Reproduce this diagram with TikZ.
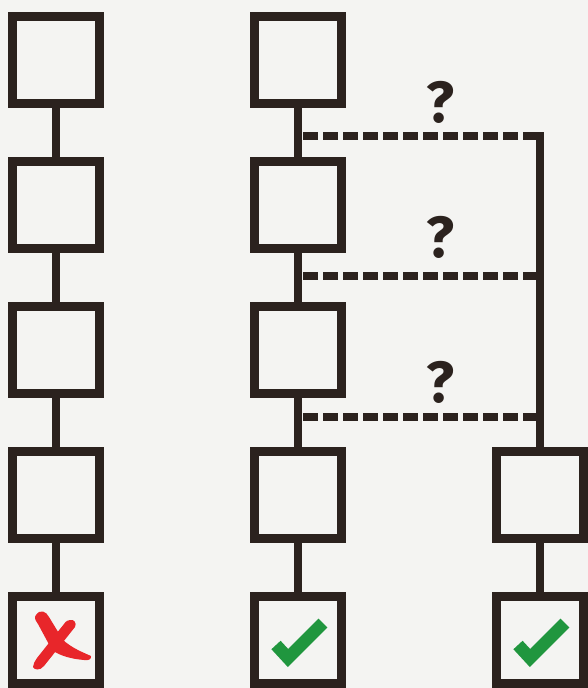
\documentclass[tikz,border=0pt]{standalone}
\usepackage{fontspec}
\setmainfont{Fira Sans}
\definecolor{ink}{RGB}{43,34,30}
\definecolor{okgreen}{RGB}{32,150,62}
\definecolor{badred}{RGB}{232,38,42}
\definecolor{paper}{RGB}{244,244,242}
\begin{document}
\begin{tikzpicture}[x=1pt,y=-1pt,
  boxnode/.style={draw=ink, line width=9pt, minimum size=87pt, inner sep=0pt, shape=rectangle},
  link/.style={draw=ink, line width=8.5pt},
  branch/.style={draw=ink, line width=8pt, dash pattern=on 15pt off 5pt, dash phase=15pt},
  qmark/.style={text=ink, font=\fontsize{58}{60}\selectfont\bfseries, inner sep=0pt, anchor=base},
  tick/.style={draw=okgreen, line width=12.5pt, line join=miter}
]
\fill[paper] (0,0) rectangle (588,688);
\useasboundingbox (0,0) rectangle (588,688);

% left column
\node[boxnode] (L1) at (56,60) {};
\node[boxnode] (L2) at (56,205) {};
\node[boxnode] (L3) at (56,350) {};
\node[boxnode] (L4) at (56,495) {};
\node[boxnode] (L5) at (56,640) {};
\draw[link] (L1.south) -- (L2.north);
\draw[link] (L2.south) -- (L3.north);
\draw[link] (L3.south) -- (L4.north);
\draw[link] (L4.south) -- (L5.north);

% middle column
\node[boxnode] (M1) at (298,60) {};
\node[boxnode] (M2) at (298,205) {};
\node[boxnode] (M3) at (298,350) {};
\node[boxnode] (M4) at (298,495) {};
\node[boxnode] (M5) at (298,640) {};
\draw[link] (M1.south) -- (M2.north);
\draw[link] (M2.south) -- (M3.north);
\draw[link] (M3.south) -- (M4.north);
\draw[link] (M4.south) -- (M5.north);

% right column
\node[boxnode] (R4) at (540,495) {};
\node[boxnode] (R5) at (540,640) {};
\coordinate (rtop) at (540,132);
\draw[link] (rtop) -- (R4.north);
\draw[link] (R4.south) -- (R5.north);

% dashed branches
\coordinate (b1) at (298,136);
\coordinate (b2) at (298,276);
\coordinate (b3) at (298,417);
\coordinate (r1) at (540,136);
\coordinate (r2) at (540,276);
\coordinate (r3) at (540,417);
\draw[branch] (b1) -- (r1);
\draw[branch] (b2) -- (r2);
\draw[branch] (b3) -- (r3);

% question marks
\node[qmark] (q1) at (440,122) {?};
\node[qmark] (q2) at (440,257) {?};
\node[qmark] (q3) at (440,402) {?};

% red cross
\fill[badred] (36,615) .. controls (40,609) and (46,611) .. (49,617) -- (63,640)
  .. controls (72,648) and (82,652) .. (91,656) .. controls (92,659) and (88,661) .. (84,660)
  .. controls (72,659) and (60,656) .. (52,650) -- (38,624) .. controls (35,620) and (34,617) .. (36,615) -- cycle;
\fill[badred] (70,620) .. controls (74,619) and (77,623) .. (75,627) -- (44,666)
  .. controls (40,671) and (34,670) .. (33,667) .. controls (33,664) and (35,661) .. (37,658)
  -- (64,624) .. controls (66,621) and (68,620) .. (70,620) -- cycle;

% green ticks
\draw[tick] (276,645) -- (288,658) -- (323,623);
\draw[tick] (518,645) -- (530,658) -- (565,623);
\end{tikzpicture}
\end{document}
